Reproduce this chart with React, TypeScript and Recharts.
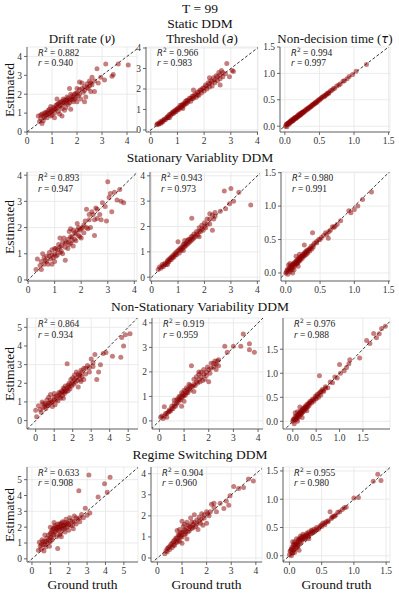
import { ScatterChart, Scatter, XAxis, YAxis, CartesianGrid, ReferenceLine } from "recharts";

type Pt = [number, number];

// ground truth vs estimated, one list per panel
const staticDrift: Pt[] = [
  [0.45, 0.85], [0.5, 0.55], [0.55, 0.7], [0.6, 0.95], [0.65, 0.6], [0.7, 0.8], [0.75, 1.05], [0.8, 0.75],
  [0.85, 0.95], [0.9, 1.2], [0.95, 0.85], [1.0, 1.1], [1.0, 0.9], [0.6, 0.45], [0.85, 1.15], [0.7, 1.0],
  [1.05, 1.3], [1.1, 1.0], [1.15, 1.2], [1.2, 1.45], [1.25, 1.1], [1.3, 1.35], [1.35, 1.6], [1.4, 0.85],
  [1.4, 1.25], [1.45, 1.5], [1.5, 1.7], [1.55, 1.3], [1.6, 1.55], [1.6, 1.85], [1.65, 1.45], [1.7, 1.7],
  [1.75, 1.2], [1.8, 1.9], [1.85, 1.6], [1.9, 1.75], [1.95, 2.05], [2.0, 1.6], [1.2, 1.75], [1.5, 1.15],
  [1.75, 2.0], [1.3, 0.95], [2.05, 1.9], [2.1, 2.25], [2.15, 1.75], [2.2, 2.6], [2.25, 2.1], [2.3, 2.4],
  [2.35, 1.85], [2.4, 2.55], [2.45, 2.3], [2.5, 2.7], [2.55, 2.15], [2.6, 2.5], [2.7, 2.15], [2.7, 2.7],
  [2.8, 3.35], [2.85, 2.6], [2.95, 2.9], [2.1, 2.65], [2.3, 1.6], [2.0, 2.3], [2.6, 2.9], [3.15, 3.6],
  [3.4, 2.95], [3.45, 3.05], [3.65, 3.6], [4.05, 3.55], [3.1, 2.75],
  [0.55, 0.9], [0.65, 0.85], [0.75, 0.9], [0.8, 1.0], [0.9, 1.0], [0.95, 1.1], [1.05, 1.15], [1.1, 1.25],
  [1.15, 1.4], [1.2, 1.3], [1.25, 1.5], [1.3, 1.55], [1.35, 1.4], [1.4, 1.6], [1.45, 1.75], [1.5, 1.55],
  [1.55, 1.65], [1.6, 1.7], [1.65, 1.8], [1.7, 1.55], [1.75, 1.75], [1.8, 1.7], [1.85, 1.85], [1.9, 2.0],
  [1.95, 1.8], [2.0, 2.05], [2.1, 2.0], [2.2, 2.3], [2.3, 2.2], [2.4, 2.35], [2.5, 2.45], [2.55, 2.6],
  [1.1, 0.75], [0.95, 1.35], [1.7, 2.3],
];
const staticThreshold: Pt[] = [
  [0.22, 0.25], [0.25, 0.3], [0.3, 0.28], [0.35, 0.4], [0.38, 0.33], [0.42, 0.45], [0.45, 0.4], [0.5, 0.52],
  [0.55, 0.5], [0.6, 0.62], [0.65, 0.6], [0.7, 0.75], [0.75, 0.7], [0.8, 0.85], [0.85, 0.8], [0.9, 0.95],
  [0.95, 0.9], [1.0, 1.05], [1.05, 1.0], [1.1, 1.2], [1.15, 1.1], [1.2, 1.25], [1.25, 1.2], [1.3, 1.4],
  [1.35, 1.3], [1.4, 1.45], [1.45, 1.55], [1.5, 1.4], [1.55, 1.65], [1.6, 1.55], [1.65, 1.75], [1.7, 1.6],
  [1.75, 1.85], [1.8, 1.7], [1.85, 1.95], [1.9, 1.8], [1.95, 2.05], [2.0, 1.9], [2.05, 2.2], [2.1, 2.0],
  [2.15, 2.3], [2.2, 2.1], [2.25, 2.4], [2.3, 2.15], [2.35, 2.55], [2.4, 2.3], [2.45, 2.65], [2.5, 2.4],
  [2.55, 2.8], [2.6, 2.5], [2.65, 2.9], [2.7, 2.6], [2.8, 2.75], [2.85, 3.25], [2.95, 2.6], [3.05, 2.9],
  [3.1, 2.85], [1.6, 1.95], [1.2, 1.05], [0.7, 0.6], [2.2, 2.55],
  [0.3, 0.32], [0.4, 0.38], [0.5, 0.48], [0.6, 0.58], [0.65, 0.68], [0.75, 0.78], [0.8, 0.8], [0.85, 0.9],
  [0.9, 0.88], [0.95, 1.0], [1.0, 0.98], [1.05, 1.1], [1.1, 1.08], [1.15, 1.2], [1.2, 1.18], [1.25, 1.3],
  [1.3, 1.28], [1.35, 1.45], [1.4, 1.38], [1.5, 1.55], [1.55, 1.52], [1.6, 1.65], [1.7, 1.72], [1.75, 1.7],
  [1.8, 1.85], [1.9, 1.95], [2.0, 2.05], [2.1, 2.15], [2.2, 2.25], [2.3, 2.35], [2.4, 2.45], [2.5, 2.6],
  [2.6, 2.7], [2.7, 2.8], [2.6, 2.2],
];
const staticNdt: Pt[] = [
  [0.01, 0.0], [0.02, 0.03], [0.03, -0.01], [0.04, 0.05], [0.05, 0.03], [0.06, 0.07], [0.07, 0.05], [0.08, 0.1],
  [0.09, 0.08], [0.1, 0.12], [0.11, 0.1], [0.12, 0.13], [0.13, 0.12], [0.14, 0.16], [0.15, 0.14], [0.16, 0.17],
  [0.17, 0.16], [0.18, 0.2], [0.19, 0.18], [0.2, 0.22], [0.21, 0.2], [0.22, 0.24], [0.23, 0.22], [0.24, 0.25],
  [0.25, 0.26], [0.26, 0.25], [0.27, 0.28], [0.28, 0.27], [0.3, 0.31], [0.31, 0.3], [0.32, 0.33], [0.34, 0.35],
  [0.35, 0.34], [0.37, 0.38], [0.38, 0.37], [0.4, 0.41], [0.41, 0.4], [0.43, 0.44], [0.45, 0.46], [0.46, 0.45],
  [0.48, 0.49], [0.5, 0.51], [0.52, 0.52], [0.54, 0.55], [0.56, 0.57], [0.58, 0.58], [0.6, 0.61], [0.62, 0.63],
  [0.64, 0.64], [0.66, 0.67], [0.7, 0.71], [0.75, 0.76], [0.8, 0.8], [0.84, 0.85], [0.9, 0.9], [0.93, 0.94],
  [0.98, 0.98], [1.03, 1.04], [1.18, 1.17],
  [0.03, 0.04], [0.05, 0.06], [0.07, 0.08], [0.09, 0.1], [0.1, 0.1], [0.12, 0.11], [0.13, 0.14], [0.15, 0.16],
  [0.16, 0.15], [0.18, 0.18], [0.2, 0.2], [0.22, 0.21], [0.24, 0.23], [0.26, 0.27], [0.29, 0.29], [0.33, 0.32],
  [0.36, 0.36], [0.39, 0.39], [0.42, 0.42], [0.44, 0.43], [0.47, 0.47], [0.5, 0.49], [0.53, 0.54], [0.57, 0.56],
  [0.6, 0.59], [0.63, 0.62], [0.68, 0.68], [0.72, 0.72], [0.78, 0.78], [0.86, 0.86],
];

const statDrift: Pt[] = [
  [0.3, 0.4], [0.35, 0.8], [0.45, 0.55], [0.5, 0.4], [0.55, 1.0], [0.6, 0.6], [0.65, 0.75], [0.7, 0.9],
  [0.75, 0.6], [0.8, 1.05], [0.85, 0.8], [0.9, 1.15], [0.95, 0.85], [1.0, 1.0], [1.0, 0.7], [1.05, 1.2],
  [1.1, 0.95], [1.15, 1.35], [1.2, 1.05], [1.25, 1.3], [1.3, 1.0], [1.35, 1.6], [1.4, 0.75], [1.4, 1.25],
  [1.45, 1.45], [1.5, 1.2], [1.55, 1.85], [1.6, 1.4], [1.65, 1.65], [1.7, 1.3], [1.75, 1.8], [1.8, 1.5],
  [1.85, 2.15], [1.9, 1.7], [1.95, 1.9], [2.0, 1.6], [2.05, 2.0], [2.1, 1.8], [2.15, 2.25], [2.2, 2.7],
  [2.25, 1.95], [2.3, 2.3], [2.35, 2.0], [2.45, 2.5], [2.5, 1.7], [2.55, 2.75], [2.6, 2.35], [2.7, 2.5],
  [2.8, 2.95], [2.9, 2.8], [2.95, 2.25], [3.0, 3.75], [3.05, 3.15], [3.15, 2.6], [3.25, 3.35], [3.35, 3.05],
  [3.45, 3.45], [3.5, 3.0], [3.6, 2.95], [1.2, 1.6], [1.6, 1.95], [0.9, 0.6], [2.4, 2.6],
  [0.5, 0.7], [0.6, 0.85], [0.7, 0.7], [0.8, 0.9], [0.9, 0.95], [1.0, 1.2], [1.05, 0.9], [1.1, 1.15],
  [1.2, 1.25], [1.25, 1.1], [1.3, 1.45], [1.4, 1.4], [1.5, 1.55], [1.55, 1.35], [1.6, 1.65], [1.65, 1.5],
  [1.7, 1.9], [1.75, 1.55], [1.8, 1.75], [1.85, 1.9], [1.9, 2.0], [1.95, 1.65], [2.0, 1.95], [2.1, 2.1],
  [2.2, 2.0], [2.3, 2.5], [2.5, 2.3], [2.6, 2.7], [2.75, 2.3], [3.1, 3.3],
];
const statThreshold: Pt[] = [
  [0.25, 0.3], [0.3, 0.4], [0.35, 0.35], [0.4, 0.5], [0.45, 0.42], [0.5, 0.55], [0.55, 0.5], [0.6, 0.65],
  [0.65, 0.6], [0.7, 0.75], [0.75, 0.7], [0.8, 0.85], [0.85, 0.8], [0.9, 0.95], [0.95, 0.9], [1.0, 1.05],
  [1.0, 1.4], [1.05, 0.95], [1.1, 1.15], [1.15, 1.1], [1.2, 1.3], [1.25, 1.2], [1.3, 1.35], [1.35, 1.3],
  [1.4, 1.5], [1.45, 1.4], [1.5, 1.6], [1.52, 2.33], [1.55, 1.5], [1.6, 1.7], [1.65, 1.6], [1.7, 1.8],
  [1.75, 1.65], [1.8, 1.95], [1.85, 1.8], [1.9, 2.05], [1.95, 1.85], [2.0, 2.15], [2.05, 1.95], [2.1, 2.3],
  [2.2, 2.1], [2.3, 1.85], [2.3, 2.45], [2.35, 2.3], [2.4, 2.55], [2.6, 2.6], [2.75, 3.4], [2.8, 2.7],
  [2.95, 2.9], [3.0, 3.5], [3.1, 3.0], [3.3, 3.35], [3.75, 2.85], [1.2, 1.05], [0.6, 0.5], [1.8, 1.6],
  [2.2, 2.5],
  [0.4, 0.42], [0.5, 0.5], [0.6, 0.6], [0.65, 0.7], [0.7, 0.68], [0.75, 0.8], [0.8, 0.78], [0.85, 0.9],
  [0.9, 0.88], [0.95, 1.0], [1.05, 1.1], [1.1, 1.05], [1.15, 1.2], [1.2, 1.18], [1.25, 1.3], [1.3, 1.25],
  [1.35, 1.45], [1.4, 1.35], [1.45, 1.5], [1.5, 1.45], [1.55, 1.62], [1.6, 1.55], [1.7, 1.7], [1.8, 1.8],
  [1.9, 1.9], [2.0, 2.0], [2.1, 2.1], [2.2, 2.3], [2.4, 2.4], [1.25, 1.45],
];
const statNdt: Pt[] = [
  [0.0, 0.0], [0.02, 0.05], [0.03, -0.02], [0.05, 0.08], [0.06, 0.02], [0.07, 0.1], [0.08, 0.05], [0.09, 0.12],
  [0.1, 0.07], [0.11, 0.14], [0.12, 0.1], [0.13, 0.16], [0.14, 0.12], [0.15, 0.18], [0.16, 0.14], [0.17, 0.2],
  [0.18, 0.16], [0.19, 0.22], [0.2, 0.18], [0.21, 0.24], [0.22, 0.2], [0.23, 0.25], [0.24, 0.22], [0.25, 0.28],
  [0.26, 0.25], [0.27, 0.3], [0.28, 0.26], [0.29, 0.32], [0.3, 0.28], [0.31, 0.34], [0.32, 0.3], [0.34, 0.36],
  [0.35, 0.33], [0.37, 0.4], [0.38, 0.36], [0.4, 0.42], [0.42, 0.45], [0.27, 0.42], [0.39, 0.6], [0.45, 0.47],
  [0.5, 0.5], [0.55, 0.56], [0.6, 0.58], [0.62, 0.52], [0.65, 0.64], [0.7, 0.68], [0.72, 0.7], [0.75, 0.73],
  [0.8, 0.78], [0.92, 0.93], [0.95, 0.9], [1.0, 0.95], [1.05, 1.0], [1.12, 1.1], [1.25, 1.21], [0.04, 0.12],
  [0.1, 0.0], [0.18, 0.1], [0.15, 0.25],
  [0.01, 0.02], [0.03, 0.05], [0.05, 0.04], [0.07, 0.07], [0.09, 0.09], [0.1, 0.12], [0.12, 0.13], [0.14, 0.15],
  [0.16, 0.17], [0.17, 0.15], [0.19, 0.19], [0.2, 0.21], [0.22, 0.23], [0.24, 0.25], [0.26, 0.27], [0.28, 0.29],
  [0.3, 0.31], [0.33, 0.34], [0.36, 0.37], [0.4, 0.39], [0.45, 0.45], [0.48, 0.5], [0.52, 0.53], [0.58, 0.6],
  [0.63, 0.62], [0.68, 0.69], [0.12, 0.05], [0.2, 0.28], [0.06, 0.14],
];

const nonStatDrift: Pt[] = [
  [0.0, 0.55], [0.05, 0.2], [0.15, 0.8], [0.25, 0.6], [0.35, 1.0], [0.4, 0.7], [0.5, 0.9], [0.55, 0.65],
  [0.6, 1.1], [0.65, 0.8], [0.7, 1.25], [0.75, 0.9], [0.8, 1.4], [0.85, 1.0], [0.9, 0.75], [1.0, 1.1],
  [1.05, 0.85], [1.1, 1.3], [1.2, 1.05], [1.25, 1.5], [1.3, 1.25], [1.4, 1.6], [1.45, 1.35], [1.5, 1.75],
  [1.55, 1.45], [1.6, 1.85], [1.65, 1.55], [1.7, 3.05], [1.75, 1.6], [1.8, 2.0], [1.85, 1.7], [1.9, 2.2],
  [1.95, 1.85], [2.0, 2.3], [2.05, 1.95], [2.1, 2.45], [2.15, 2.05], [2.2, 2.6], [2.25, 2.15], [2.3, 1.8],
  [2.35, 2.4], [2.4, 2.2], [2.45, 2.7], [2.5, 2.35], [2.6, 2.8], [2.7, 2.5], [2.8, 2.95], [2.9, 2.6],
  [3.0, 3.3], [3.1, 2.9], [3.2, 3.55], [3.3, 2.2], [3.4, 2.6], [3.5, 3.0], [3.65, 3.6], [3.8, 3.65],
  [4.15, 3.45], [4.6, 3.4], [4.65, 4.45], [4.75, 4.0], [4.85, 4.6], [5.1, 4.65], [1.0, 1.45], [1.5, 1.2],
  [2.6, 2.2],
  [0.4, 0.9], [0.5, 0.75], [0.6, 0.85], [0.7, 0.95], [0.8, 1.1], [0.9, 1.0], [1.0, 1.25], [1.1, 1.1],
  [1.2, 1.35], [1.3, 1.45], [1.35, 1.2], [1.4, 1.5], [1.5, 1.55], [1.55, 1.7], [1.6, 1.6], [1.7, 1.75],
  [1.75, 1.9], [1.8, 1.8], [1.9, 1.95], [2.0, 2.05], [2.1, 2.2], [2.2, 2.3], [2.3, 2.5], [2.4, 2.45],
  [2.5, 2.6], [2.7, 2.8], [2.9, 2.85], [3.1, 3.1], [0.3, 0.45], [2.45, 2.1],
];
const nonStatThreshold: Pt[] = [
  [0.05, 0.15], [0.1, 0.2], [0.15, 0.1], [0.2, 0.58], [0.25, 0.3], [0.3, 0.15], [0.35, 0.35], [0.4, 0.45],
  [0.45, 0.4], [0.5, 0.6], [0.55, 0.5], [0.6, 0.7], [0.65, 0.6], [0.7, 0.85], [0.75, 0.75], [0.8, 1.0],
  [0.85, 0.85], [0.9, 0.6], [0.9, 1.15], [0.95, 1.0], [1.0, 1.25], [1.05, 1.05], [1.1, 1.35], [1.15, 1.15],
  [1.2, 1.5], [1.25, 1.25], [1.3, 2.25], [1.35, 1.4], [1.4, 1.7], [1.45, 1.45], [1.5, 1.8], [1.55, 1.55],
  [1.6, 1.9], [1.65, 1.6], [1.7, 2.0], [1.75, 1.65], [1.8, 2.1], [1.85, 1.7], [1.9, 1.85], [1.95, 2.2],
  [2.0, 1.6], [2.05, 1.95], [2.1, 2.35], [2.2, 2.2], [2.25, 2.45], [2.3, 2.1], [2.35, 2.45], [2.4, 2.25],
  [2.65, 3.05], [2.75, 2.8], [3.0, 3.05], [3.3, 3.05], [3.4, 3.55], [3.65, 3.15], [3.65, 2.9], [3.85, 2.8],
  [1.0, 0.8], [1.4, 1.2], [0.6, 0.85],
  [0.2, 0.2], [0.3, 0.3], [0.4, 0.38], [0.5, 0.5], [0.6, 0.6], [0.7, 0.7], [0.75, 0.9], [0.8, 0.85],
  [0.85, 1.0], [0.9, 0.95], [0.95, 1.1], [1.0, 1.05], [1.05, 1.2], [1.1, 1.15], [1.15, 1.3], [1.2, 1.3],
  [1.25, 1.45], [1.3, 1.4], [1.4, 1.5], [1.5, 1.6], [1.6, 1.7], [1.7, 1.8], [1.8, 1.9], [1.9, 2.0],
  [2.0, 2.1], [2.1, 2.15], [2.2, 2.35], [2.3, 2.3], [2.4, 2.5], [1.6, 2.0],
];
const nonStatNdt: Pt[] = [
  [0.0, 0.0], [0.02, 0.05], [0.03, -0.05], [0.05, 0.1], [0.06, 0.03], [0.08, 0.12], [0.09, 0.05], [0.1, 0.2],
  [0.11, 0.08], [0.13, 0.15], [0.14, 0.1], [0.15, 0.2], [0.17, 0.14], [0.18, 0.22], [0.2, 0.18], [0.21, 0.26],
  [0.22, 0.2], [0.24, 0.28], [0.25, 0.23], [0.27, 0.32], [0.28, 0.26], [0.3, 0.35], [0.32, 0.3], [0.34, 0.38],
  [0.35, 0.33], [0.37, 0.42], [0.4, 0.38], [0.42, 0.46], [0.45, 0.42], [0.48, 0.52], [0.5, 0.47], [0.52, 0.56],
  [0.55, 0.5], [0.57, 0.95], [0.58, 0.6], [0.6, 0.55], [0.63, 0.66], [0.66, 0.62], [0.7, 0.72], [0.75, 0.7],
  [0.8, 0.82], [0.85, 0.8], [0.9, 0.92], [0.95, 0.9], [1.0, 1.18], [1.02, 1.0], [1.1, 1.05], [1.15, 1.12],
  [1.2, 1.2], [1.22, 1.28], [1.43, 1.32], [1.58, 1.68], [1.65, 1.62], [1.73, 1.83], [1.79, 1.74], [1.85, 1.82],
  [1.9, 1.93], [1.98, 1.98], [0.1, 0.0], [0.2, 0.08], [0.3, 0.22],
  [0.01, 0.03], [0.04, 0.04], [0.07, 0.08], [0.1, 0.1], [0.12, 0.14], [0.14, 0.15], [0.16, 0.18], [0.18, 0.17],
  [0.2, 0.22], [0.22, 0.24], [0.25, 0.27], [0.28, 0.3], [0.3, 0.3], [0.33, 0.35], [0.36, 0.38], [0.4, 0.42],
  [0.44, 0.45], [0.48, 0.48], [0.52, 0.52], [0.56, 0.58], [0.6, 0.62], [0.65, 0.64], [0.7, 0.69], [0.05, 0.18],
  [0.15, 0.3],
];

const switchDrift: Pt[] = [
  [0.35, 0.55], [0.4, 1.05], [0.45, 0.8], [0.5, 0.6], [0.55, 1.2], [0.6, 0.9], [0.65, 0.5], [0.7, 1.1],
  [0.75, 0.75], [0.8, 1.3], [0.85, 1.0], [0.9, 1.5], [0.95, 0.8], [1.0, 1.35], [1.05, 1.7], [1.1, 1.2],
  [1.15, 1.9], [1.2, 1.5], [1.25, 2.1], [1.3, 1.75], [1.35, 1.4], [1.4, 0.65], [1.4, 2.0], [1.45, 1.8],
  [1.5, 2.2], [1.55, 1.6], [1.6, 2.0], [1.65, 2.35], [1.7, 1.85], [1.75, 2.1], [1.8, 1.7], [1.85, 2.5],
  [1.9, 2.0], [1.95, 2.25], [2.0, 1.8], [2.05, 2.6], [2.1, 2.1], [2.2, 2.4], [2.25, 1.9], [2.3, 2.7],
  [2.4, 2.2], [2.5, 2.5], [2.55, 4.3], [2.6, 2.35], [2.7, 2.8], [2.8, 2.6], [2.9, 3.2], [3.0, 2.75],
  [3.1, 5.3], [3.15, 2.9], [3.6, 3.9], [3.95, 4.75], [4.1, 4.2], [4.25, 5.15], [1.0, 2.0], [1.2, 2.3],
  [0.7, 1.5], [1.6, 1.4],
  [0.5, 0.9], [0.6, 1.1], [0.7, 0.9], [0.8, 1.1], [0.9, 1.2], [1.0, 1.6], [1.05, 1.35], [1.1, 1.8],
  [1.15, 1.55], [1.2, 1.95], [1.25, 1.7], [1.3, 2.0], [1.35, 1.85], [1.4, 2.2], [1.45, 2.0], [1.5, 1.9],
  [1.55, 2.1], [1.6, 2.25], [1.65, 1.9], [1.7, 2.1], [1.75, 2.3], [1.8, 2.0], [1.85, 2.15], [1.9, 2.3],
  [2.0, 2.2], [2.1, 2.4], [2.2, 2.1], [2.3, 2.35], [2.4, 2.6], [2.6, 2.6], [1.5, 1.5], [1.0, 1.1],
];
const switchThreshold: Pt[] = [
  [0.3, 0.2], [0.35, 0.35], [0.4, 0.3], [0.45, 0.5], [0.5, 0.4], [0.55, 0.65], [0.6, 0.5], [0.65, 0.8],
  [0.7, 0.6], [0.75, 0.95], [0.8, 0.75], [0.85, 1.1], [0.9, 0.8], [0.9, 1.35], [0.95, 1.0], [1.0, 1.2],
  [1.0, 0.7], [1.05, 1.5], [1.1, 1.1], [1.15, 1.3], [1.2, 1.7], [1.25, 1.25], [1.3, 1.5], [1.35, 1.9],
  [1.4, 1.4], [1.45, 1.6], [1.5, 2.05], [1.55, 1.5], [1.6, 1.8], [1.65, 1.35], [1.7, 1.95], [1.75, 1.65],
  [1.8, 2.1], [1.85, 1.55], [1.9, 1.9], [2.0, 2.2], [2.0, 1.65], [2.1, 2.0], [2.2, 2.55], [2.3, 2.6],
  [2.4, 2.2], [2.55, 2.6], [2.7, 2.35], [2.8, 2.7], [2.9, 2.5], [2.95, 2.95], [3.1, 3.4], [3.3, 3.3],
  [3.5, 3.35], [3.7, 3.75], [3.9, 3.65], [1.0, 1.75], [0.8, 1.3], [1.2, 0.9],
  [0.4, 0.45], [0.5, 0.55], [0.6, 0.7], [0.65, 0.6], [0.7, 0.85], [0.75, 0.75], [0.8, 0.95], [0.85, 0.85],
  [0.9, 1.05], [0.95, 1.2], [1.0, 1.0], [1.05, 1.25], [1.1, 1.35], [1.15, 1.15], [1.2, 1.4], [1.25, 1.55],
  [1.3, 1.3], [1.35, 1.5], [1.4, 1.7], [1.45, 1.45], [1.5, 1.7], [1.6, 1.6], [1.7, 1.75], [1.8, 1.85],
  [1.9, 2.05], [2.05, 2.1], [2.15, 2.2], [2.3, 2.4], [1.1, 1.6], [0.9, 1.1],
];
const switchNdt: Pt[] = [
  [0.0, 0.02], [0.02, 0.1], [0.03, 0.0], [0.04, 0.15], [0.05, 0.05], [0.06, 0.2], [0.07, 0.1], [0.08, 0.25],
  [0.09, 0.12], [0.1, 0.2], [0.11, 0.3], [0.12, 0.15], [0.13, 0.25], [0.14, 0.18], [0.15, 0.3], [0.16, 0.22],
  [0.17, 0.35], [0.18, 0.25], [0.19, 0.3], [0.2, 0.28], [0.21, 0.38], [0.22, 0.3], [0.24, 0.35], [0.25, 0.32],
  [0.27, 0.4], [0.28, 0.34], [0.3, 0.42], [0.32, 0.38], [0.34, 0.45], [0.36, 0.41], [0.38, 0.47], [0.4, 0.44],
  [0.42, 0.5], [0.45, 0.47], [0.48, 0.53], [0.5, 0.52], [0.52, 0.58], [0.55, 0.55], [0.57, 0.6], [0.6, 0.62],
  [0.63, 0.78], [0.65, 0.66], [0.68, 0.7], [0.72, 0.72], [0.75, 0.77], [0.78, 0.78], [0.82, 0.82], [0.85, 0.85],
  [0.88, 0.86], [1.0, 1.02], [1.07, 1.03], [1.3, 1.32], [1.37, 1.44], [1.42, 1.33], [0.05, 0.25], [0.15, 0.1],
  [0.3, 0.3],
  [0.01, 0.08], [0.03, 0.12], [0.05, 0.12], [0.07, 0.18], [0.09, 0.2], [0.1, 0.15], [0.11, 0.22], [0.13, 0.2],
  [0.14, 0.28], [0.16, 0.28], [0.18, 0.32], [0.2, 0.33], [0.22, 0.35], [0.24, 0.3], [0.26, 0.36], [0.28, 0.38],
  [0.3, 0.36], [0.33, 0.4], [0.35, 0.44], [0.38, 0.42], [0.42, 0.46], [0.46, 0.5], [0.5, 0.55], [0.55, 0.58],
  [0.6, 0.6], [0.66, 0.68], [0.7, 0.7], [0.04, 0.05], [0.08, 0.06],
];

const rowTitles = ["Static DDM", "Stationary Variablity DDM", "Non-Stationary Variability DDM", "Regime Switching DDM"];
const r2Values = [
  ["0.882", "0.966", "0.994"],
  ["0.893", "0.943", "0.980"],
  ["0.864", "0.919", "0.976"],
  ["0.633", "0.904", "0.955"],
];
const rValues = [
  ["0.940", "0.983", "0.997"],
  ["0.947", "0.973", "0.991"],
  ["0.934", "0.959", "0.988"],
  ["0.908", "0.960", "0.980"],
];
const ticks4 = [0, 1, 2, 3, 4];
const ticks5 = [0, 1, 2, 3, 4, 5];
const ticksTau = [0, 0.5, 1, 1.5];

const panelData: Pt[][][] = [
  [staticDrift, staticThreshold, staticNdt],
  [statDrift, statThreshold, statNdt],
  [nonStatDrift, nonStatThreshold, nonStatNdt],
  [switchDrift, switchThreshold, switchNdt],
];

// axis limits [xmin, xmax, ymin, ymax]
const limits = [
  [[0, 4.4, 0, 4.5], [-0.18, 4.02, -0.1, 4.05], [-0.07, 1.52, -0.11, 1.5]],
  [[-0.04, 4.1, -0.04, 4.12], [-0.06, 4.1, -0.15, 4.15], [-0.07, 1.52, -0.12, 1.51]],
  [[-0.47, 5.53, -0.45, 5.5], [-0.3, 4.2, -0.33, 4.2], [-0.21, 2.08, -0.16, 2.15]],
  [[-0.27, 5.77, -0.2, 5.8], [-0.26, 4.25, -0.19, 4.32], [-0.1, 1.56, -0.11, 1.57]],
];
const tickSets = [
  [ticks4, ticks4, ticksTau],
  [ticks4, ticks4, ticksTau],
  [ticks5, ticks4, ticksTau],
  [ticks5, ticks4, ticksTau],
];

// plot boxes in px: rows [top, bottom], cols [left, right]
const rowBoxes = [[47, 132], [172, 281], [318, 429], [467, 562]];
const colBoxes = [
  [[27, 137], [146, 258], [280, 390]],
  [[27, 137], [150, 260], [281, 390]],
  [[27, 138], [152, 263], [283, 390]],
  [[27, 138], [151, 262], [283, 390]],
];
const titleY = [24, 158, 307, 455];

const SERIF = "'Liberation Serif', 'Times New Roman', serif";
const MATH = "'DejaVu Sans', sans-serif";
const AX = 26, PT = 6, PR = 10, AH = 16;

const Dot = (p: any) => <circle cx={p.cx} cy={p.cy} r={2.5} fill="#8b0000" fillOpacity={0.5} />;

function Panel({ row, col }: { row: number; col: number }) {
  const [top, bottom] = rowBoxes[row];
  const [left, right] = colBoxes[row][col];
  const [x0, x1, y0, y1] = limits[row][col];
  const ticks = tickSets[row][col];
  const w = right - left;
  const h = bottom - top;
  const pts = panelData[row][col].map(([x, y]) => ({ x, y }));
  const fmt = (v: number) => (col === 2 ? v.toFixed(1) : String(v));
  const tickStyle = { fontSize: 9.5, fill: "#333", fontFamily: SERIF };
  const lo = Math.min(x0, y0);
  const hi = Math.max(x1, y1);
  const line1 = top + Math.min(0.085 * h, 5.5);
  const line2 = line1 + Math.max(0.105 * h, 10.5);
  const note = { position: "absolute" as const, left: left + 11, fontFamily: SERIF, fontSize: 9.5, color: "#222", whiteSpace: "nowrap" as const, lineHeight: "8px", height: 8 };
  return (
    <>
      <div style={{ position: "absolute", left: left - AX, top: top - PT }}>
        <ScatterChart width={w + AX + PR} height={h + PT + AH} margin={{ top: PT, right: PR, left: 0, bottom: 0 }}>
          <CartesianGrid stroke="#e6e6e6" strokeWidth={0.8} />
          <XAxis
            type="number"
            dataKey="x"
            domain={[x0, x1]}
            ticks={ticks}
            allowDataOverflow
            height={AH}
            tickSize={3}
            tick={tickStyle}
            tickFormatter={fmt}
            axisLine={{ stroke: "#444", strokeWidth: 0.8 }}
            tickLine={{ stroke: "#444", strokeWidth: 0.8 }}
          />
          <YAxis
            type="number"
            dataKey="y"
            domain={[y0, y1]}
            ticks={ticks}
            allowDataOverflow
            width={AX}
            tickSize={3}
            tick={tickStyle}
            tickFormatter={fmt}
            axisLine={{ stroke: "#444", strokeWidth: 0.8 }}
            tickLine={{ stroke: "#444", strokeWidth: 0.8 }}
          />
          <Scatter data={pts} isAnimationActive={false} shape={Dot} />
          <ReferenceLine
            segment={[{ x: lo, y: lo }, { x: hi, y: hi }]}
            ifOverflow="hidden"
            stroke="#222"
            strokeWidth={0.9}
            strokeDasharray="3 2"
          />
        </ScatterChart>
      </div>
      <div style={{ ...note, top: line1 - 4 }}>
        <span style={{ fontFamily: MATH, fontStyle: "italic", fontSize: 8.5 }}>R</span>
        <sup style={{ fontFamily: MATH, fontSize: 6, verticalAlign: "4px", lineHeight: 0 }}>2</sup> = {r2Values[row][col]}
      </div>
      <div style={{ ...note, top: line2 - 4 }}>
        <span style={{ fontFamily: MATH, fontStyle: "italic", fontSize: 8.5 }}>r</span> = {rValues[row][col]}
      </div>
    </>
  );
}

const centerText = (x: number, y: number, content: any, size = 13.5) => (
  <div style={{ position: "absolute", left: x, top: y, transform: "translate(-50%, -50%)", fontFamily: SERIF, fontSize: size, color: "#111", whiteSpace: "nowrap", lineHeight: 1 }}>
    {content}
  </div>
);

export default function App() {
  const m = (s: string) => <span style={{ fontFamily: MATH, fontStyle: "italic", fontSize: 11.5 }}>{s}</span>;
  const colCenters = colBoxes[0].map(([l, r]) => (l + r) / 2);
  const bottomCenters = colBoxes[3].map(([l, r]) => (l + r) / 2);
  return (
    <div style={{ position: "absolute", left: 0, top: 0, width: 399, height: 596, background: "#fff", overflow: "hidden" }}>
      {centerText(200, 9, "T = 99")}
      {rowTitles.map((t, i) => (
        <div key={t}>{centerText(200, titleY[i], t)}</div>
      ))}
      {centerText(colCenters[0], 38.5, <>Drift rate ({m("ν")})</>, 13)}
      {centerText(colCenters[1], 38.5, <>Threshold ({m("a")})</>, 13)}
      {centerText(colCenters[2], 38.5, <>Non-decision time ({m("τ")})</>, 13)}
      {rowBoxes.map(([t, b], i) => (
        <div
          key={i}
          style={{ position: "absolute", left: 10, top: (t + b) / 2, transform: "translate(-50%, -50%) rotate(-90deg)", fontFamily: SERIF, fontSize: 13.5, color: "#111", whiteSpace: "nowrap", lineHeight: 1 }}
        >
          Estimated
        </div>
      ))}
      {bottomCenters.map((c, i) => (
        <div key={i}>{centerText(c, 585, "Ground truth")}</div>
      ))}
      {[0, 1, 2, 3].map((r) => [0, 1, 2].map((c) => <Panel key={`${r}-${c}`} row={r} col={c} />))}
    </div>
  );
}
